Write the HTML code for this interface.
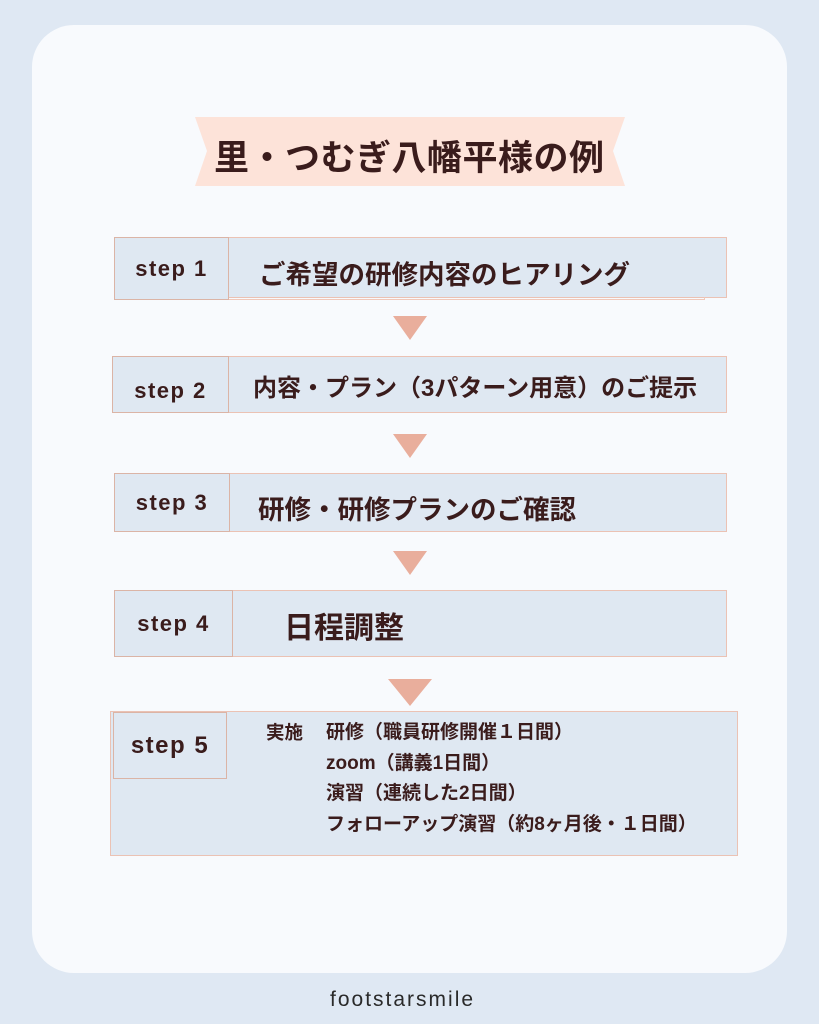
<!DOCTYPE html>
<html><head><meta charset="utf-8"><style>
body{margin:0;width:819px;height:1024px;background:#dfe8f3;position:relative;overflow:hidden;font-family:"Liberation Sans","Noto Sans CJK JP",sans-serif;color:#3a1c1c}
.card{position:absolute;left:32px;top:25px;width:755px;height:948px;background:#f8fafd;border-radius:42px}
.ab{position:absolute}
.box{position:absolute;background:#dfe8f2;border:1.5px solid #ebc2b4;box-sizing:border-box}
.lab{position:absolute;background:#dfe8f2;border:1.5px solid #dbb4a6;box-sizing:border-box;font-size:22px;font-weight:bold;display:flex;align-items:center;justify-content:center;letter-spacing:1.5px}
.txt{position:absolute;font-size:26.5px;font-weight:bold;white-space:nowrap}
.tri{position:absolute;width:0;height:0;border-left:17px solid transparent;border-right:17px solid transparent;border-top:24px solid #e9ae9c}
</style></head><body>
<div class="card"></div>
<svg class="ab" style="left:195px;top:117px" width="430" height="69"><polygon points="0,0 430,0 418,34 430,69 0,69 12,34" fill="#fde3d9"/></svg>
<div class="txt" style="left:214px;top:130px;font-size:35px;letter-spacing:0.5px">里・つむぎ八幡平様の例</div>

<div class="box" style="left:114px;top:237px;width:613px;height:61px"></div>
<div class="ab" style="left:228px;top:297px;width:477px;height:3px;border:1px solid #f0c8ba;border-top:none;box-sizing:border-box"></div>
<div class="lab" style="left:114px;top:237px;width:115px;height:63px">step 1</div>
<div class="txt" style="left:259px;top:253px">ご希望の研修内容のヒアリング</div>
<div class="tri" style="left:393px;top:316px"></div>

<div class="box" style="left:112px;top:356px;width:615px;height:57px"></div>
<div class="lab" style="left:112px;top:356px;width:117px;height:57px;padding-top:12px">step 2</div>
<div class="txt" style="left:253px;top:368px;font-size:24px">内容・プラン（3パターン用意）のご提示</div>
<div class="tri" style="left:393px;top:434px"></div>

<div class="box" style="left:114px;top:473px;width:613px;height:59px"></div>
<div class="lab" style="left:114px;top:473px;width:116px;height:59px">step 3</div>
<div class="txt" style="left:258px;top:488px">研修・研修プランのご確認</div>
<div class="tri" style="left:393px;top:551px"></div>

<div class="box" style="left:114px;top:590px;width:613px;height:67px"></div>
<div class="lab" style="left:114px;top:590px;width:119px;height:67px">step 4</div>
<div class="txt" style="left:284px;top:603px;font-size:30px">日程調整</div>
<div class="tri" style="left:388px;top:679px;border-left-width:22px;border-right-width:22px;border-top-width:27px"></div>

<div class="box" style="left:110px;top:711px;width:628px;height:145px"></div>
<div class="lab" style="left:113px;top:712px;width:114px;height:67px;font-size:24px">step 5</div>
<div class="txt" style="left:266px;top:718px;font-size:18.5px;line-height:30.5px">実施</div>
<div class="txt" style="left:326px;top:718px;font-size:19px;line-height:30.5px">研修（職員研修開催１日間）<br>zoom（講義1日間）<br>演習（連続した2日間）<br>フォローアップ演習（約8ヶ月後・１日間）</div>

<div class="txt" style="left:330px;top:988px;font-size:21px;font-weight:normal;letter-spacing:2px;color:#2a2a2a">footstarsmile</div>
</body></html>
